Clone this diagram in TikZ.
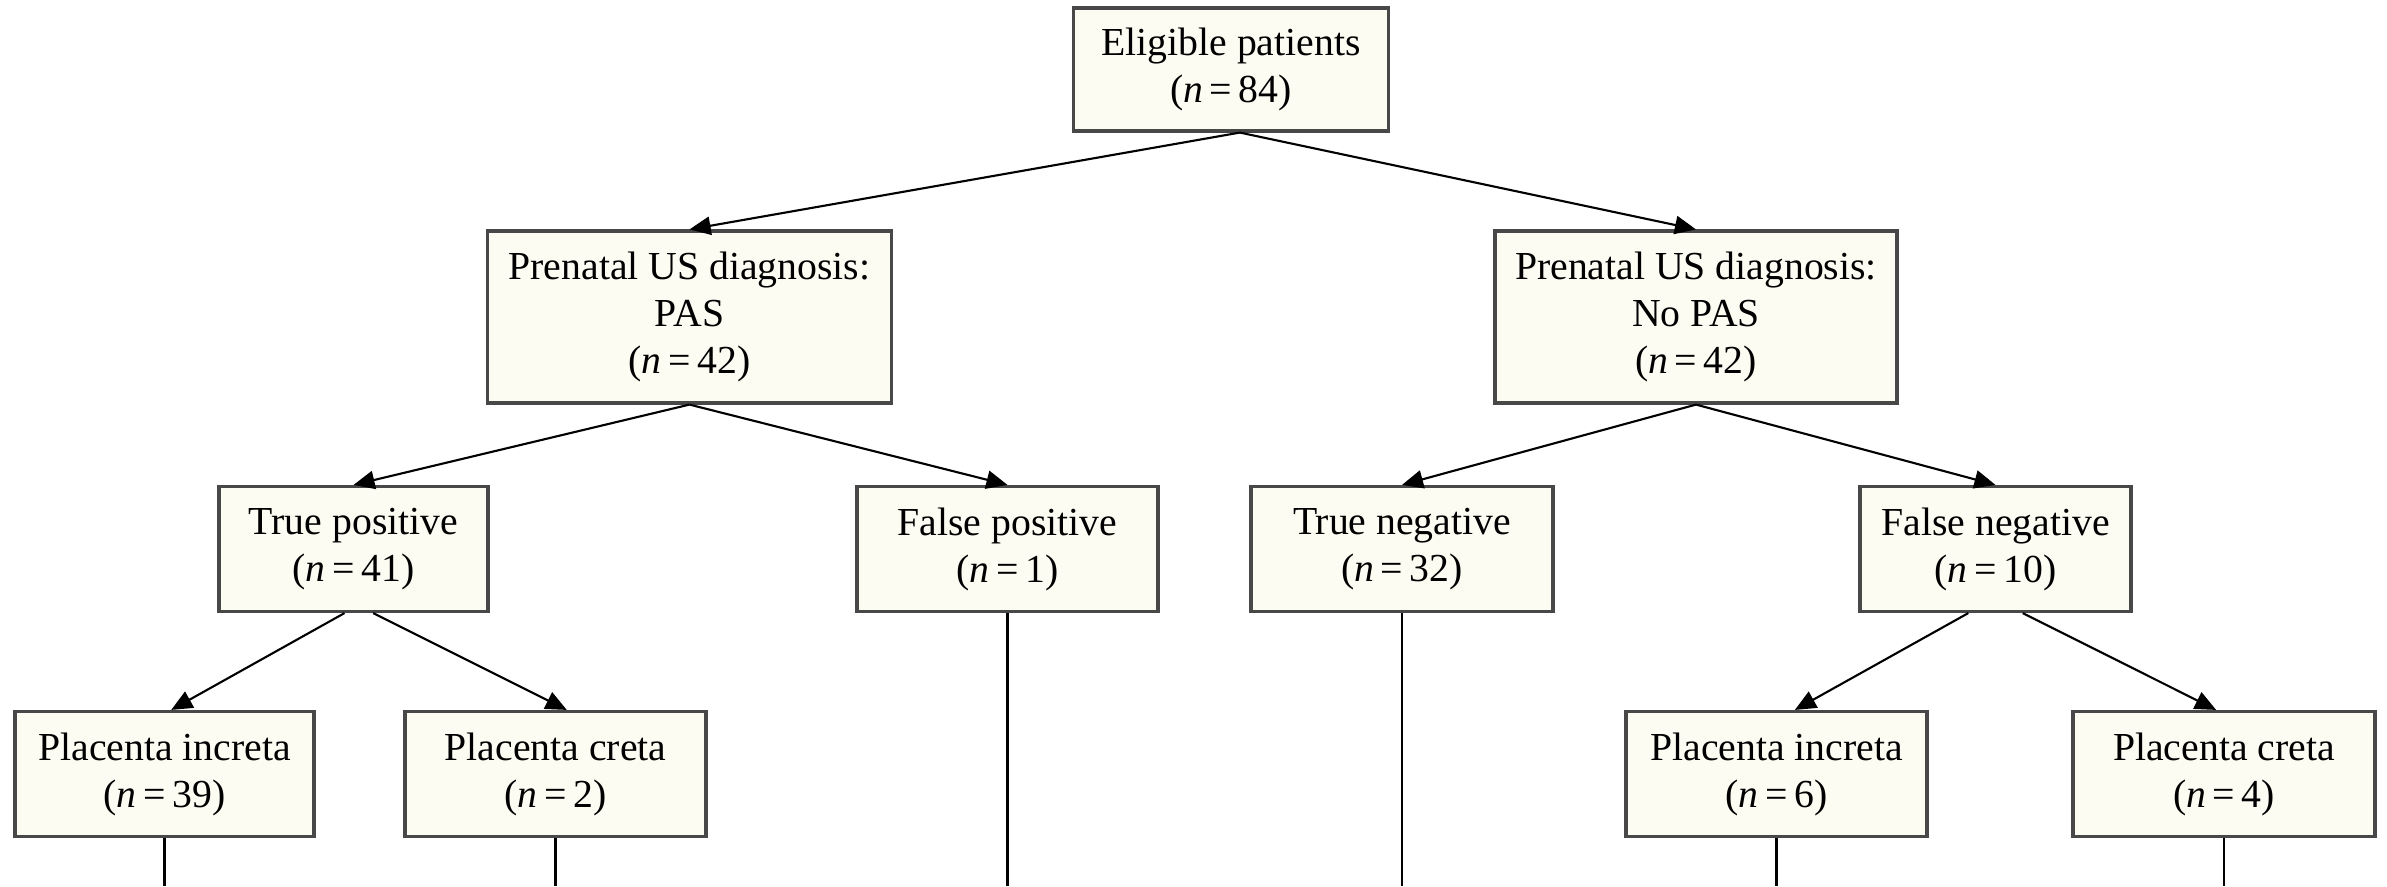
\documentclass[tikz,border=0pt]{standalone}
\usepackage{fontspec}
\setmainfont{Liberation Serif}
\usetikzlibrary{arrows.meta}
\definecolor{boxfill}{HTML}{FCFCF3}
\definecolor{boxdraw}{HTML}{484848}
\newcommand*{\ncount}[1]{(\textit{n}\,=\,#1)}

\begin{document}
\begin{tikzpicture}[
        >={Triangle[length=6pt,width=5.2pt]}, line width=0.6pt,
        every node/.style={font=\fontsize{11.3}{13.4}\selectfont, align=center},
        box/.style={draw=boxdraw, fill=boxfill, line width=0.9pt, minimum height=1.25cm, inner sep=2pt},
        ]
        \useasboundingbox (0,0) rectangle (23.87,-8.86);
        \coordinate (floor) at (0,-8.86);

        % top and second row
        \node[box, minimum width=3.15cm, minimum height=1.23cm] (elig) at (12.31,-0.695) {Eligible patients\\\ncount{84}};
        \node[box, minimum width=4.04cm, minimum height=1.72cm] (pas)   at (6.895,-3.17) {Prenatal US diagnosis:\\PAS\\\ncount{42}};
        \node[box, minimum width=4.02cm, minimum height=1.72cm] (nopas) at (16.96,-3.17) {Prenatal US diagnosis:\\No PAS\\\ncount{42}};

        % test outcomes
        \node[box, minimum width=2.69cm] (tp) at (3.535,-5.49)  {True positive\\\ncount{41}};
        \node[box, minimum width=3.01cm] (fp) at (10.075,-5.49) {False positive\\\ncount{1}};
        \node[box, minimum width=3.02cm] (tn) at (14.02,-5.49)  {True negative\\\ncount{32}};
        \node[box, minimum width=2.71cm] (fn) at (19.955,-5.49) {False negative\\\ncount{10}};

        % pathology
        \node[box, minimum width=2.99cm] (inc_1) at (1.645,-7.74)  {Placenta increta\\\ncount{39}};
        \node[box, minimum width=3.01cm] (cre_1) at (5.555,-7.74)  {Placenta creta\\\ncount{2}};
        \node[box, minimum width=3.01cm] (inc_2) at (17.765,-7.74) {Placenta increta\\\ncount{6}};
        \node[box, minimum width=3.02cm] (cre_2) at (22.24,-7.74)  {Placenta creta\\\ncount{4}};

        \draw[->] (elig.-82) -- (pas.north);
        \draw[->] (elig.-82) -- (nopas.north);
        \draw[->] (pas.south) -- (tp.north);
        \draw[->] (pas.south) -- (fp.north);
        \draw[->] (nopas.south) -- (tn.north);
        \draw[->] (nopas.south) -- (fn.north);
        \draw[->] (tp.-98) -- (inc_1.84);
        \draw[->] (tp.-73) -- (cre_1.80);
        \draw[->] (fn.-113) -- (inc_2.74);
        \draw[->] (fn.-67) -- (cre_2.97);

        \foreach \leaf in {inc_1, cre_1, fp, tn, inc_2, cre_2} {
          \coordinate (\leaf end) at (\leaf.south |- floor);
          \draw (\leaf.south) -- (\leaf end);
        }
      \end{tikzpicture}
\end{document}
